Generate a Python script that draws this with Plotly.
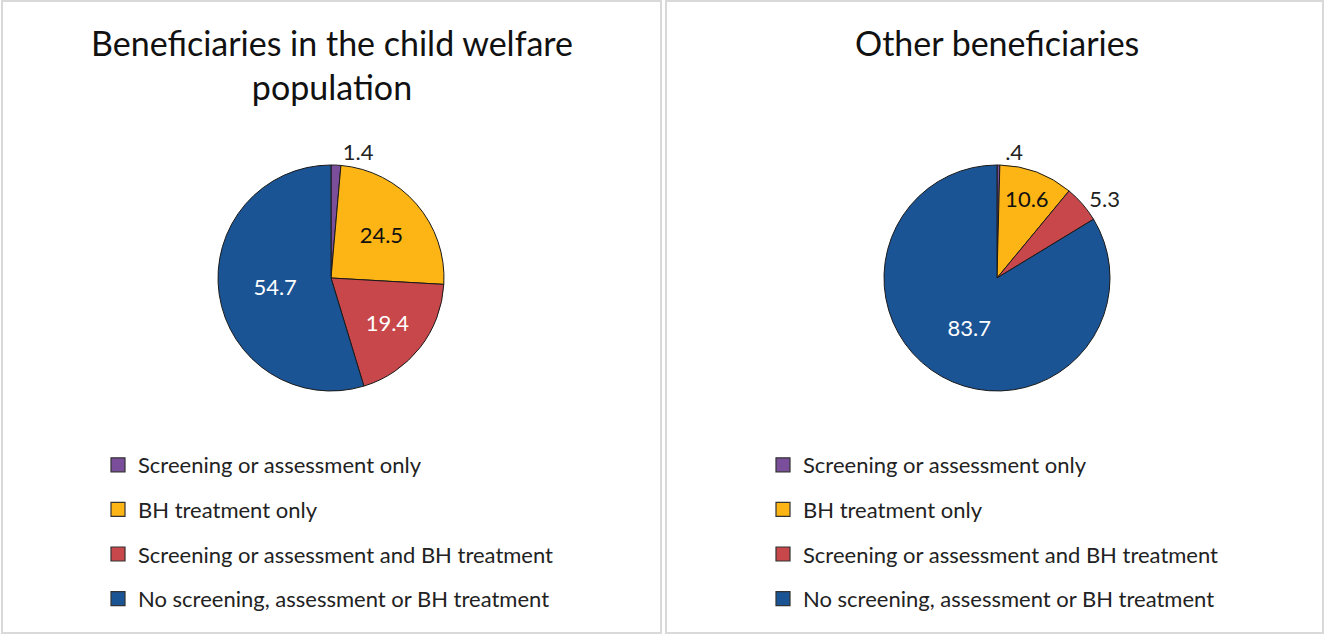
import plotly.graph_objects as go

# Service categories (clockwise from 12 o'clock)
categories = [
    "Screening or assessment only",
    "BH treatment only",
    "Screening or assessment and BH treatment",
    "No screening, assessment or BH treatment",
]
child_welfare_pct = [1.4, 24.5, 19.4, 54.7]
other_pct = [0.4, 10.6, 5.3, 83.7]

panel_titles = ["Beneficiaries in the child welfare<br>population", "Other beneficiaries"]

colors = ["#7B4E9C", "#FDB515", "#C8474A", "#1B5494"]
label_colors = ["#222222", "#111111", "#FFFFFF", "#FFFFFF"]
left_positions = ["outside", "inside", "inside", "inside"]
right_positions = ["outside", "inside", "outside", "inside"]

W, H = 1325, 635
FONT = "Lato, Carlito, Calibri, sans-serif"


def fmt(v):
    s = f"{v:.1f}"
    return s[1:] if s.startswith("0") else s


def px_domain(cx, cy, r):
    return dict(x=[(cx - r) / W, (cx + r) / W], y=[(H - cy - r) / H, (H - cy + r) / H])


fig = go.Figure()

for vals, pos, dom in [
    (child_welfare_pct, left_positions, px_domain(331, 278, 113)),
    (other_pct, right_positions, px_domain(997, 278, 113)),
]:
    fig.add_trace(go.Pie(
        labels=categories,
        values=vals,
        text=[fmt(v) for v in vals],
        textinfo="text",
        textposition=pos,
        insidetextorientation="horizontal",
        textfont=dict(family=FONT, size=22, color=label_colors),
        outsidetextfont=dict(family=FONT, size=22, color="#222222"),
        insidetextfont=dict(family=FONT, size=22, color=label_colors),
        marker=dict(colors=colors, line=dict(color="#1a1a1a", width=1)),
        sort=False,
        direction="clockwise",
        rotation=0,
        domain=dom,
        showlegend=False,
        hoverinfo="label+value",
    ))

# Legend entries, one group per category so rows can be spaced apart
for leg in ["legend", "legend2"]:
    for name, col in zip(categories, colors):
        fig.add_trace(go.Scatter(
            x=[None], y=[None], mode="markers", name=name,
            marker=dict(symbol="square", size=14, color=col,
                        line=dict(color="#333333", width=1.2)),
            legend=leg, legendgroup=f"{leg}-{name}", hoverinfo="skip",
        ))

legend_common = dict(
    font=dict(family=FONT, size=22, color="#222222"),
    traceorder="grouped",
    tracegroupgap=13,
    bgcolor="rgba(0,0,0,0)",
    yanchor="top",
    xanchor="left",
    itemclick=False,
    itemdoubleclick=False,
)

annotations = []
for txt, cx in zip(panel_titles, [332, 997]):
    annotations.append(dict(
        text=txt, x=cx / W, y=(H - 20) / H, xref="paper", yref="paper",
        xanchor="center", yanchor="top", showarrow=False,
        font=dict(family=FONT, size=34, color="#111111"),
    ))

shapes = [
    dict(type="rect", xref="paper", yref="paper",
         x0=2 / W, x1=661 / W, y0=2 / H, y1=(H - 1) / H,
         line=dict(color="#D9D9D9", width=2), layer="below"),
    dict(type="rect", xref="paper", yref="paper",
         x0=666 / W, x1=1323 / W, y0=2 / H, y1=(H - 1) / H,
         line=dict(color="#D9D9D9", width=2), layer="below"),
]

fig.update_layout(
    width=W, height=H,
    margin=dict(l=0, r=0, t=0, b=0),
    paper_bgcolor="white",
    plot_bgcolor="white",
    xaxis=dict(visible=False),
    yaxis=dict(visible=False),
    legend=dict(x=98 / W, y=(H - 444) / H, **legend_common),
    legend2=dict(x=763 / W, y=(H - 444) / H, **legend_common),
    annotations=annotations,
    shapes=shapes,
    font=dict(family=FONT),
)

fig.write_html("out.html")
